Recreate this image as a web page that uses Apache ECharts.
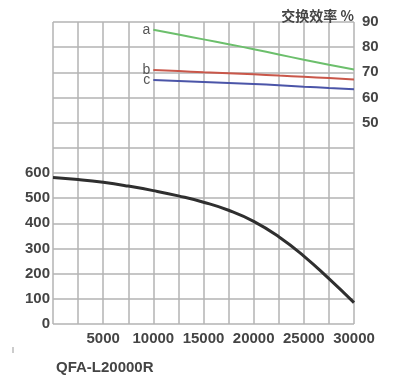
<!DOCTYPE html>
<html><head><meta charset="utf-8">
<script src="https://cdn.jsdelivr.net/npm/echarts@6/dist/echarts.min.js"></script>
<style>html,body{margin:0;padding:0;background:#fff;}#c{width:400px;height:375px;}</style>
</head><body><div id="c"></div>
<script>
const airflow = [0, 2500, 5000, 7500, 10000, 12500, 15000, 17500, 20000, 22500, 25000, 27500, 30000];
const pressure = [582, 574, 563, 548, 530, 509, 484, 452, 408, 347, 270, 180, 85];
const effX = [10000, 12500, 15000, 17500, 20000, 22500, 25000, 27500, 30000];
const effA = [86.9, 85.0, 83.1, 81.2, 79.2, 77.1, 75.0, 73.0, 71.1];
const effB = [70.9, 70.5, 70.0, 69.6, 69.2, 68.7, 68.2, 67.7, 67.2];
const effC = [67.0, 66.6, 66.2, 65.8, 65.4, 64.9, 64.3, 63.8, 63.3];
const seriesNames = ['a', 'b', 'c'];
const xTicks = [5000, 10000, 15000, 20000, 25000, 30000];
const leftTicks = [0, 100, 200, 300, 400, 500, 600];
const rightTicks = [50, 60, 70, 80, 90];
const rightTitle = '交换效率 %';
const modelName = 'QFA-L20000R';

const chart = echarts.init(document.getElementById('c'));
const labelFont = {fontFamily: 'Liberation Sans, Arial, sans-serif', fontSize: 15, fontWeight: 'bold', color: '#444'};
function effSeries(vals, name, color) {
  return {
    type: 'line', yAxisIndex: 1, name: name,
    data: effX.map((x, i) => i === 0 ? {value: [x, vals[i]], label: {show: true, position: 'left', distance: 3, formatter: name, fontSize: 14, color: '#555', fontFamily: 'Liberation Sans, Arial, sans-serif'}} : [x, vals[i]]),
    smooth: true, showSymbol: true, symbolSize: 0, symbol: 'circle',
    lineStyle: {color: color, width: 2}, itemStyle: {color: color},
    animation: false, silent: true
  };
}
chart.setOption({
  animation: false,
  grid: {left: 53, right: 46, top: 22, bottom: 51},
  title: [
    {text: rightTitle, right: 41, top: 4, textStyle: {fontFamily: 'Noto Sans CJK SC, sans-serif', fontSize: 14, fontWeight: 'bold', color: '#444'}},
    {text: modelName, left: 51, top: 355, textStyle: {fontFamily: 'Liberation Sans, Arial, sans-serif', fontSize: 15, fontWeight: 'bold', color: '#444'}}
  ],
  graphic: [{type: 'line', shape: {x1: 13, y1: 347, x2: 13, y2: 353}, style: {stroke: '#999', lineWidth: 1}}],
  xAxis: {
    type: 'value', min: 0, max: 30000, interval: 2500,
    axisLine: {show: false}, axisTick: {show: false},
    splitLine: {show: true, lineStyle: {color: '#b3b3b3', width: 1.5}},
    axisLabel: Object.assign({margin: 7, formatter: v => xTicks.includes(v) ? String(v) : ''}, labelFont)
  },
  yAxis: [
    {
      type: 'value', min: 0, max: 1200, interval: 100,
      axisLine: {show: false}, axisTick: {show: false},
      splitLine: {show: true, lineStyle: {color: '#b3b3b3', width: 1.5}},
      axisLabel: Object.assign({margin: 3, formatter: v => leftTicks.includes(v) ? String(v) : ''}, labelFont)
    },
    {
      type: 'value', min: -30, max: 90, interval: 10, position: 'right',
      axisLine: {show: false}, axisTick: {show: false}, splitLine: {show: false},
      axisLabel: Object.assign({margin: 8, formatter: v => rightTicks.includes(v) ? String(v) : ''}, labelFont)
    }
  ],
  series: [
    {type: 'line', data: airflow.map((x, i) => [x, pressure[i]]), smooth: true, showSymbol: false,
     lineStyle: {color: '#2f2f2f', width: 3}, silent: true},
    effSeries(effA, seriesNames[0], '#6cbf6c'),
    effSeries(effB, seriesNames[1], '#c9574a'),
    effSeries(effC, seriesNames[2], '#4b55a8')
  ]
});
</script></body></html>
